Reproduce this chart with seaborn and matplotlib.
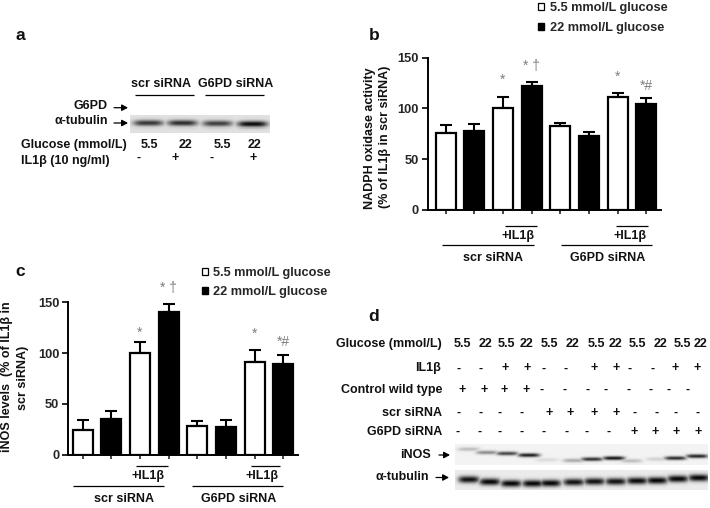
from matplotlib import pyplot as plt
from matplotlib.patches import Patch
import seaborn as sns
import numpy as np
import pandas as pd

W, H = 710, 508

# bar panels
bar_labels = ["scr", "scr IL", "scr hi", "scr IL hi", "g6pd", "g6pd IL", "g6pd hi", "g6pd IL hi"]
nadph_vals = [76, 78, 100, 122, 83, 73, 111, 104]
nadph_errs = [8, 7, 11, 4, 3, 4, 4, 6]
inos_vals = [24, 35, 100, 140, 28, 27, 91, 89]
inos_errs = [10, 8, 11, 8, 5, 7, 12, 9]
legend_labels = ["5.5 mmol/L glucose", "22 mmol/L glucose"]

# western blot rows of panel d
glucose_row = ["5.5", "22"] * 6
il1b_row = list("--++--++--++")
wild_row = list("++++--------")
scr_row = list("----++++----")
g6pd_row = list("--------++++")

# band strength per lane
tubulin_a = [0.78, 0.82, 0.74, 0.98]
inos_d = [0.22, 0.42, 0.72, 0.88, 0.1, 0.3, 0.8, 0.92, 0.22, 0.14, 0.82, 0.85]
tubulin_d = [0.95, 1, 1, 1, 1, 0.95, 0.95, 0.95, 0.98, 1, 1, 1]

sns.set_theme(style="ticks")
plt.rcParams["font.family"] = ["Liberation Sans", "DejaVu Sans"]
plt.rcParams["font.weight"] = "bold"
plt.rcParams["axes.labelweight"] = "bold"

fig = plt.figure(figsize=(W / 100, H / 100), dpi=100, facecolor="white")

# whole-figure axes in pixels, for all the labels around the panels
over = fig.add_axes([0, 0, 1, 1], zorder=5)
over.set_xlim(0, W)
over.set_ylim(H, 0)
over.axis("off")


def axes_px(left, top, right, bottom, **kw):
    return fig.add_axes([left / W, 1 - bottom / H, (right - left) / W, (bottom - top) / H], **kw)


def label(x, y, s, ha="center", size=9, **kw):
    over.text(x, y, s, ha=ha, va="center", fontsize=size, fontweight="bold", color="#111111", **kw)


def rule(x0, x1, y, lw=0.9):
    over.plot([x0, x1], [y, y], color="black", lw=lw, solid_capstyle="butt")


def arrow(x0, x1, y):
    over.annotate("", xy=(x1, y), xytext=(x0, y),
                  arrowprops=dict(arrowstyle="-|>,head_width=0.16,head_length=0.3", color="black",
                                  lw=0.9, shrinkA=0, shrinkB=0))


def bar_panel(box, vals, errs, xlim, marks):
    ax = axes_px(*box)
    df = pd.DataFrame({"group": bar_labels, "value": vals})
    colors = ["white", "black"] * 4
    sns.barplot(data=df, x="group", y="value", hue="group", palette=colors, legend=False,
                width=0.7, edgecolor="black", linewidth=1.6, saturation=1, ax=ax)
    ax.errorbar(range(8), vals, yerr=[np.zeros(8), errs], fmt="none", ecolor="black",
                elinewidth=1.5, capsize=4, capthick=1.5, zorder=1)
    for patch in ax.patches:
        patch.set_zorder(2)
    ax.set_xlim(*xlim)
    ax.set_ylim(0, 150)
    ax.set_yticks([0, 50, 100, 150])
    ax.set_xticks(range(8))
    ax.set_xticklabels([])
    ax.set_xlabel("")
    ax.set_ylabel("")
    ax.tick_params(axis="y", labelsize=9.3, width=1.4, length=4.5, pad=2)
    ax.tick_params(axis="x", width=1.2, length=3)
    for lab in ax.get_yticklabels():
        lab.set_fontweight("bold")
    for side in ["left", "bottom"]:
        ax.spines[side].set_linewidth(1.4)
        ax.spines[side].set_color("black")
    sns.despine(ax=ax)
    for i, y, s in marks:
        ax.text(i, y, s, ha="center", va="center", fontsize=10, color="#7d7d7d", fontweight="normal")
    return ax


def gel(box, bg, lanes, strength, centres, half_w, half_h):
    # the blot picture: one soft dark band per lane on a grey ground
    left, top, right, bottom = box
    ax = axes_px(*box)
    yy, xx = np.mgrid[top:bottom:0.5, left:right:0.5]
    ink = np.zeros_like(xx)
    for lane, s, cy in zip(lanes, strength, centres):
        ink = np.maximum(ink, s * np.exp(-((xx - lane) / half_w) ** 4 - ((yy - cy) / half_h) ** 2))
    sns.heatmap(bg - (bg - 0.03) * ink, vmin=0, vmax=1, cmap="gray", cbar=False,
                xticklabels=False, yticklabels=False, ax=ax, rasterized=True)
    ax.set_xlabel("")
    ax.set_ylabel("")
    return ax


###########
# panel a #
###########
label(20, 36, "a", size=12.5)
label(160.7, 84, "scr siRNA")
label(235.7, 84, "G6PD siRNA")
rule(135, 194, 94.7)
rule(205, 264, 94.7)
label(108, 106, "G6PD", ha="right")
label(108, 121.5, "α-tubulin", ha="right")
arrow(114, 128, 107.7)
arrow(114, 128, 123)
gel((130, 115, 270, 133), 0.88, [148, 182, 217, 252], tubulin_a, [123, 123, 123.5, 124], 15, 3)
label(20.7, 145, "Glucose (mmol/L)", ha="left")
label(20.7, 161, "IL1β (10 ng/ml)", ha="left")
for x, s in zip([149, 185.7, 222.7, 255], ["5.5", "22", "5.5", "22"]):
    label(x, 145, s)
for x, s in zip([139, 175, 211.7, 253], ["-", "+", "-", "+"]):
    label(x, 158, s)

###########
# panel b #
###########
label(374, 36, "b", size=12.5)
ax_b = bar_panel((427.5, 57.7, 660.7, 210), nadph_vals, nadph_errs, (-0.63, 7.5),
                 [(2, 128, "*"), (3, 142, "* †"), (6, 131, "*"), (7, 122, "*#")])
label(370, 138, "NADPH oxidase activity", rotation=90)
label(385, 137, "(% of IL1β in scr siRNA)", rotation=90)
rule(505, 537, 226)
rule(616, 648, 226)
label(518, 235.7, "+IL1β")
label(630, 235.7, "+IL1β")
rule(442, 534, 245.3)
rule(560.7, 651.7, 245.3)
label(493, 258, "scr siRNA")
label(608, 258, "G6PD siRNA")
handles = [Patch(facecolor="white", edgecolor="black", lw=0.9), Patch(facecolor="black", edgecolor="black")]
over.legend(handles, legend_labels, loc="upper left", bbox_to_anchor=(534.5 / W, 1 + 2 / H), frameon=False,
            fontsize=9.2, handlelength=0.48, handleheight=0.5, handletextpad=0.42, labelspacing=0.62,
            borderaxespad=0, borderpad=0.3)

###########
# panel c #
###########
label(20, 271, "c", size=12.5)
ax_c = bar_panel((68.3, 302.3, 297.7, 454.7), inos_vals, inos_errs, (-0.5, 7.5),
                 [(2, 120, "*"), (3, 164, "* †"), (6, 119, "*"), (7, 111, "*#")])
label(7.5, 377, "iNOS levels  (% of IL1β in", rotation=90)
label(23, 378, "scr siRNA)", rotation=90)
rule(135.7, 167.7, 466)
rule(250.7, 280, 466)
label(148, 475.7, "+IL1β")
label(261.7, 475.7, "+IL1β")
rule(73, 164, 485.7)
rule(192, 283, 485.7)
label(124, 498.7, "scr siRNA")
label(239, 498.7, "G6PD siRNA")
leg_c = fig.legend(handles, legend_labels, loc="upper left", bbox_to_anchor=(198 / W, 1 - 263.5 / H),
                   frameon=False, fontsize=9.2, handlelength=0.48, handleheight=0.5, handletextpad=0.42,
                   labelspacing=0.5, borderaxespad=0, borderpad=0.3)

###########
# panel d #
###########
label(374, 316.7, "d", size=12.5)
right_edge = 443
row_names = ["Glucose (mmol/L)", "IL1β", "Control wild type", "scr siRNA", "G6PD siRNA"]
row_ys = [344, 368.3, 390, 412.7, 431.7]
row_vals = [glucose_row, il1b_row, wild_row, scr_row, g6pd_row]
# hand-placed columns, the rows of the original do not line up
row_xs = [
    [368, 437, 500, 560, 628, 697, 768, 826, 892, 960, 1026, 1082],
    [355, 423, 495, 561, 612, 677, 763, 827, 870, 937, 1006, 1071],
    [365, 431, 492, 558, 606, 673, 743, 797, 867, 932, 985, 1042],
    [355, 423, 479, 545, 626, 691, 763, 828, 884, 951, 1006, 1072],
    [353, 420, 480, 546, 612, 679, 740, 806, 881, 946, 1009, 1074],
]
for name, y, vals, xs in zip(row_names, row_ys, row_vals, row_xs):
    label(right_edge - (2.5 if name == "IL1β" else 1), y, name, ha="right")
    for x, s in zip(xs, vals):
        label(340 + x / 3, y, s)
label(430.7, 455, "iNOS", ha="right")
label(429, 476.5, "α-tubulin", ha="right")
arrow(439, 450, 455)
arrow(436, 449, 477.5)

lanes_inos = [340 + x / 3 for x in [385, 440, 500, 565, 620, 700, 755, 820, 872, 950, 1005, 1070]]
lanes_tub = [340 + x / 3 for x in [385, 448, 512, 577, 630, 700, 762, 826, 890, 950, 1012, 1075]]
inos_ys = [300 + y / 3 for y in [446, 456, 459, 464, 478, 480, 476, 473, 481, 476, 473, 467]]
tub_ys = [300 + y / 3 for y in [537, 544, 549, 549, 548, 545, 543, 543, 541, 540, 535, 532]]
gel((455, 444, 708, 465), 0.95, lanes_inos, inos_d, inos_ys, 11, 2)
gel((455, 470, 708, 490), 0.92, lanes_tub, tubulin_d, tub_ys, 10.5, 3.5)

plt.savefig("out.png", dpi=100)
